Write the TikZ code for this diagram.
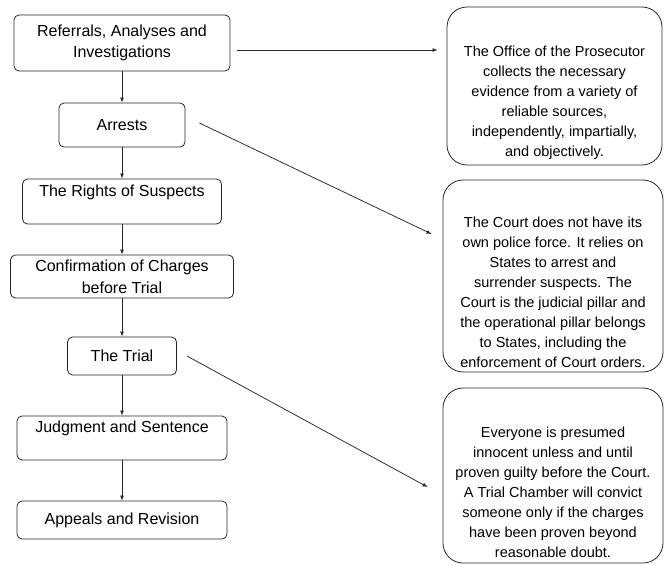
\documentclass[tikz,border=0pt]{standalone}
\usepackage{fontspec}
\setmainfont{Liberation Sans}
\usetikzlibrary{calc}
\newcommand{\notegap}{\rule{0pt}{44pt}}

\begin{document}
\begin{tikzpicture}[x=1pt,y=-1pt,>=latex]
        \tikzstyle{every node}+=[inner sep=0pt]
        \tikzstyle{stage}=[draw=black!85, line width=0.8pt, rounded corners=5pt, align=center, font=\fontsize{16}{21.7}\selectfont]
        \tikzstyle{note}=[draw=black!85, line width=0.8pt, rounded corners=20pt, align=center, font=\fontsize{14.5}{20}\selectfont]
        \tikzstyle{link}=[->, line width=0.75pt, black!85]
        \useasboundingbox (0,0) rectangle (665,565);
        \node [stage, minimum width=216, minimum height=56] (ref) at (122,43) {Referrals, Analyses and\\Investigations};
        \node [stage, minimum width=126, minimum height=44] (arr) at (122,125) {Arrests};
        \node [stage, minimum width=199, minimum height=45] (rights) at (122,201.5) {The Rights of Suspects\\ \mbox{}};
        \node [stage, minimum width=223, minimum height=43] (conf) at (122,276.5) {Confirmation of Charges\\before Trial};
        \node [stage, minimum width=109, minimum height=38] (trial) at (122,356) {The Trial};
        \node [stage, minimum width=210, minimum height=44] (judg) at (122,438) {Judgment and Sentence\\ \mbox{}};
        \node [stage, minimum width=210, minimum height=38] (app) at (122,520) {Appeals and Revision};
        \node [note, minimum width=215, minimum height=158] (prosec) at (554.5,86) {\notegap The Office of the Prosecutor\\collects the necessary\\evidence from a variety of\\reliable sources,\\independently, impartially,\\and objectively.};
        \node [note, minimum width=220, minimum height=192] (police) at (553,276) {\notegap The Court does not have its\\own police force. It relies on\\States to arrest and\\surrender suspects. The\\Court is the judicial pillar and\\the operational pillar belongs\\to States, including the\\enforcement of Court orders.};
        \node [note, minimum width=220, minimum height=175] (innocent) at (553,475.5) {\notegap Everyone is presumed\\innocent unless and until\\proven guilty before the Court.\\A Trial Chamber will convict\\someone only if the charges\\have been proven beyond\\reasonable doubt.};
        \draw [link] (ref) -- (arr);
        \draw [link] (arr) -- (rights);
        \draw [link] (rights) -- (conf);
        \draw [link] (conf) -- (trial);
        \draw [link] (trial) -- (judg);
        \draw [link] (judg) -- (app);
        \draw [link] ($(ref.east)+(7,7)$) -- ($(prosec.west)+(-9,-36)$);
        \draw [link] ($(arr.east)+(14,-2)$) -- ($(police.west)+(-11,-42)$);
        \draw [link] ($(trial.east)+(10,0)$) -- ($(innocent.west)+(-15,11.5)$);
    \end{tikzpicture}
\end{document}
